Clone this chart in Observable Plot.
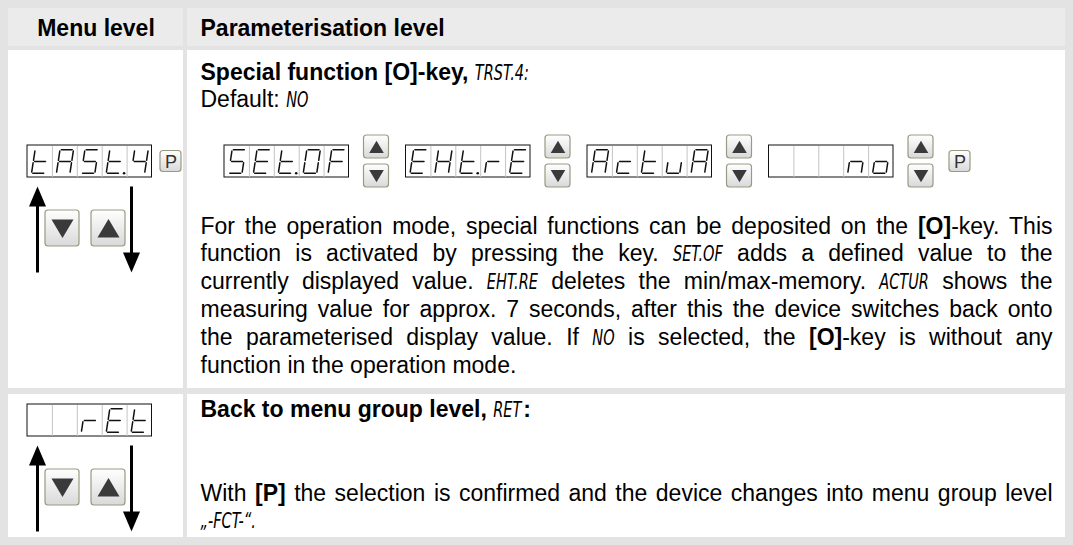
<!DOCTYPE html>
<html><head><meta charset="utf-8">
<script src="https://cdn.jsdelivr.net/npm/d3@7"></script>
<script src="https://cdn.jsdelivr.net/npm/@observablehq/plot@0.6"></script>
<style>html,body{margin:0;padding:0;background:#e3e3e3;}</style>
</head><body>
<div id="chart"></div>
<script>
// ---------------- content ----------------
const headers = ["Menu level", "Parameterisation level"];
const row1Title = "**Special function [O]-key,** {TRST.4:}";
const row1Default = "Default: {NO}";
const row1Body = [
  "For the operation mode, special functions can be deposited on the **[O]**-key. This",
  "function is activated by pressing the key. {SET.OF} adds a defined value to the",
  "currently displayed value. {EHT.RE} deletes the min/max-memory. {ACTUR} shows the",
  "measuring value for approx. 7 seconds, after this the device switches back onto",
  "the parameterised display value. If {NO} is selected, the **[O]**-key is without any",
  "function in the operation mode."
];
const row2Title = "**Back to menu group level,** {RET}**:**";
const row2Body = [
  "With **[P]** the selection is confirmed and the device changes into menu group level",
  "{„-FCT-“.}"
];
const menuDisplays = ["tASt.4", "  rEt"];
const paramChoices = ["SEt.OF", "EHt.rE", "ActuA", "   no"];

// seven-segment glyph table
const SEG = {t:"defg", A:"abcefg", S:"acdfg", "4":"bcfg", E:"adefg", O:"abcdef", F:"aefg",
  H:"bcefg", r:"eg", c:"deg", u:"cde", n:"ceg", o:"cdeg", " ":""};
const SEGPTS = {a:[[0,0],[1,0]], b:[[1,0],[1,.5]], c:[[1,.5],[1,1]], d:[[0,1],[1,1]],
  e:[[0,.5],[0,1]], f:[[0,0],[0,.5]], g:[[0,.5],[1,.5]]};

// ---------------- layout ----------------
const W = 1073, H = 545;
const colEdges = [[8, 183], [187, 1065]];
const rowEdges = [[8, 46], [50, 388], [394, 537]];
const textX0 = 200, textX1 = 1052, lineH = 27.8;
const SANS = "'Liberation Sans', Arial, sans-serif";
const SEGX = 0.66;
const FONTS = {
  reg: {css: "23px " + SANS, size: 23, weight: "normal", style: "normal", fam: SANS},
  bold: {css: "bold 23px " + SANS, size: 23, weight: "bold", style: "normal", fam: SANS},
  seg: {css: "italic 22px 'DejaVu Sans', sans-serif", size: 22, weight: "normal", style: "italic", fam: "'DejaVu Sans', sans-serif"}
};
const ctx = document.createElement("canvas").getContext("2d");
function measure(t, s) { ctx.font = FONTS[s].css; return ctx.measureText(t).width * (s === "seg" ? SEGX : 1); }

function parseRuns(str) {
  const runs = []; const re = /\*\*(.+?)\*\*|\{(.+?)\}|([^*{]+)/g; let m;
  while ((m = re.exec(str))) {
    if (m[1] != null) runs.push({t: m[1], s: "bold"});
    else if (m[2] != null) runs.push({t: m[2], s: "seg"});
    else runs.push({t: m[3], s: "reg"});
  }
  return runs;
}
function toWords(runs) {
  const words = []; let cur = null;
  for (const r of runs) {
    r.t.split(" ").forEach((p, i) => {
      if (i > 0) { if (cur) words.push(cur); cur = null; }
      if (p.length) { if (!cur) cur = {pieces: []}; cur.pieces.push({t: p, s: r.s}); }
    });
  }
  if (cur) words.push(cur);
  return words;
}
const textItems = [];
function pieceAdvance(p, i, n) { return measure(p.t, p.s) + (p.s === "seg" && i < n - 1 ? 2 : 0); }
function layoutLine(line, x0, x1, baseline, justify) {
  const words = toWords(parseRuns(line));
  words.forEach(w => { w.w = d3.sum(w.pieces, (p, i) => pieceAdvance(p, i, w.pieces.length)); });
  const total = d3.sum(words, w => w.w);
  const gap = justify && words.length > 1 ? (x1 - x0 - total) / (words.length - 1) : measure(" ", "reg");
  let x = x0;
  for (const w of words) {
    let px = x;
    w.pieces.forEach((p, i) => {
      textItems.push({x: px, y: baseline, t: p.t, s: p.s});
      px += pieceAdvance(p, i, w.pieces.length);
    });
    x += w.w + gap;
  }
}
// header
textItems.push({x: (colEdges[0][0] + colEdges[0][1]) / 2, y: 35, t: headers[0], s: "bold", mid: true});
textItems.push({x: textX0, y: 35, t: headers[1], s: "bold"});
// row 1
layoutLine(row1Title, textX0, textX1, 79, false);
layoutLine(row1Default, textX0, textX1, 79 + lineH, false);
row1Body.forEach((l, i) => layoutLine(l, textX0, textX1, 233 + i * lineH, i < row1Body.length - 1));
// row 2
layoutLine(row2Title, textX0, textX1, 416.5, false);
row2Body.forEach((l, i) => layoutLine(l, textX0, textX1, 500 + i * lineH, i < row2Body.length - 1));

// displays
const dispW = 124.5, dispH = 32, cellW = dispW / 5;
const dispBoxes = [], dividers = [], segs = [], dots = [];
function addDisplay(str, x, y) {
  dispBoxes.push({x1: x, x2: x + dispW, y1: y, y2: y + dispH});
  for (let i = 1; i < 5; i++) dividers.push({x: x + i * cellW, y1: y + 0.5, y2: y + dispH - 0.5});
  const cells = [];
  for (const ch of str) { if (ch === "." && cells.length) cells[cells.length - 1].dot = true; else cells.push({ch, dot: false}); }
  const gw = 13.5, gh = 23.5, sl = 3.6;
  cells.forEach((c, i) => {
    const gx = x + i * cellW + 4.0, gy = y + 4.3;
    const P = ([u, v]) => [gx + u * gw + (1 - v) * sl, gy + v * gh];
    for (const s of (SEG[c.ch] || "")) {
      const [p1, p2] = SEGPTS[s].map(P);
      const dx = p2[0] - p1[0], dy = p2[1] - p1[1], L = Math.hypot(dx, dy), k = 1.3 / L;
      segs.push({x1: p1[0] + dx * k, y1: p1[1] + dy * k, x2: p2[0] - dx * k, y2: p2[1] - dy * k});
    }
    if (c.dot) dots.push({x: x + (i + 1) * cellW - 3.0, y: gy + gh});
  });
}
// custom glyph shapes (symbols)
const symTriS = {draw(c) { c.moveTo(0, -6.3); c.lineTo(-7.3, 6); c.lineTo(7.3, 6); c.closePath(); }};
const symTriB = {draw(c) { c.moveTo(0, -9.5); c.lineTo(-11, 9); c.lineTo(11, 9); c.closePath(); }};
const symHead = {draw(c) { c.moveTo(0, 0); c.lineTo(-8.5, 20); c.lineTo(8.5, 20); c.closePath(); }};
// buttons
const buttons = [], trisSmall = [], trisBig = [], pLabels = [];
function addBtn(x, y, w, h, kind, big) {
  buttons.push({x1: x, x2: x + w, y1: y, y2: y + h});
  const cx = x + w / 2, cy = y + h / 2;
  const arr = big ? trisBig : trisSmall;
  if (kind === "up") arr.push({x: cx, y: cy, rot: 0});
  else if (kind === "down") arr.push({x: cx, y: cy, rot: 180});
  else pLabels.push({x: cx, y: cy + 1, t: "P"});
}
// big navigation arrows
const shafts = [], heads = [];
function addNav(T) {
  const top = T + 41, bot = T + 127;
  shafts.push({x1: 37, y1: top + 15, x2: 37, y2: bot});
  heads.push({x: 37, y: top, rot: 0});
  shafts.push({x1: 131, y1: top, x2: 131, y2: bot - 15});
  heads.push({x: 131, y: bot, rot: 180});
  addBtn(45, T + 65, 34, 36, "down", true);
  addBtn(91, T + 65, 34, 36, "up", true);
}
// row 1 sequence
const r1Top = 145;
addDisplay(menuDisplays[0], 27, r1Top);
addBtn(160, r1Top + 5.5, 21, 21, "P");
addNav(r1Top);
let cx = 224;
const udW = 25, udH = 23;
paramChoices.forEach((s) => {
  addDisplay(s, cx, r1Top);
  cx += dispW + 15;
  addBtn(cx, r1Top + 16 - 3 - udH, udW, udH, "up");
  addBtn(cx, r1Top + 16 + 3, udW, udH, "down");
  cx += udW + 17;
});
addBtn(cx - 1, r1Top + 5.5, 21, 21, "P");
// row 2
const r2Top = 404;
addDisplay(menuDisplays[1], 27, r2Top);
addNav(r2Top);

// table cells
const headCells = colEdges.map(([x1, x2]) => ({x1, x2, y1: rowEdges[0][0], y2: rowEdges[0][1]}));
const bodyCells = rowEdges.slice(1).flatMap(([y1, y2]) => colEdges.map(([x1, x2]) => ({x1, x2, y1, y2})));

function textMark(style) {
  const f = FONTS[style];
  const common = {x: "x", y: "y", text: "t", lineAnchor: "bottom", fontSize: f.size, fontWeight: f.weight,
    fontStyle: f.style, fontFamily: f.fam, fill: "#000", className: "txt-" + style};
  return [
    Plot.text(textItems.filter(d => d.s === style && !d.mid), {...common, textAnchor: "start"}),
    Plot.text(textItems.filter(d => d.s === style && d.mid), {...common, textAnchor: "middle", className: "txtm-" + style})
  ];
}

const chart = Plot.plot({
  width: W, height: H, margin: 0,
  x: {type: "identity", axis: null}, y: {type: "identity", axis: null},
  style: {background: "#e3e3e3", fontFamily: SANS},
  marks: [
    Plot.rect(headCells, {x1: "x1", x2: "x2", y1: "y1", y2: "y2", fill: "#ebebeb"}),
    Plot.rect(bodyCells, {x1: "x1", x2: "x2", y1: "y1", y2: "y2", fill: "#ffffff"}),
    Plot.rect(dispBoxes, {x1: "x1", x2: "x2", y1: "y1", y2: "y2", fill: "#fff", stroke: "#111", strokeWidth: 1}),
    Plot.link(dividers, {x1: "x", x2: "x", y1: "y1", y2: "y2", stroke: "#c4c4c4", strokeWidth: 1}),
    Plot.link(segs, {x1: "x1", y1: "y1", x2: "x2", y2: "y2", stroke: "#111", strokeWidth: 1.5, strokeLinecap: "round"}),
    Plot.dot(dots, {x: "x", y: "y", r: 1.3, fill: "#111", stroke: null}),
    Plot.rect(buttons, {x1: "x1", x2: "x2", y1: "y1", y2: "y2", rx: 3, fill: "url(#btnGrad)", stroke: "#9a9a82", strokeWidth: 1.2}),
    Plot.dot(trisSmall, {x: "x", y: "y", symbol: symTriS, rotate: "rot", fill: "#3a3a3a", stroke: null}),
    Plot.dot(trisBig, {x: "x", y: "y", symbol: symTriB, rotate: "rot", fill: "#3a3a3a", stroke: null}),
    Plot.text(pLabels, {x: "x", y: "y", text: "t", fontSize: 18, fill: "#333", fontFamily: SANS}),
    Plot.link(shafts, {x1: "x1", y1: "y1", x2: "x2", y2: "y2", stroke: "#000", strokeWidth: 3}),
    Plot.dot(heads, {x: "x", y: "y", symbol: symHead, rotate: "rot", fill: "#000", stroke: null}),
    ...textMark("reg"), ...textMark("bold"), ...textMark("seg")
  ]
});
// condense the digital-style inline text horizontally (narrow display-type look)
const segData = textItems.filter(d => d.s === "seg" && !d.mid);
chart.querySelectorAll("g.txt-seg text").forEach((el, i) => {
  const d = segData[i];
  if (!d) return;
  el.removeAttribute("x"); el.removeAttribute("y");
  el.setAttribute("transform", `translate(${d.x},${d.y}) scale(${SEGX},1)`);
});
const defs = d3.create("svg:defs");
const g = defs.append("linearGradient").attr("id", "btnGrad").attr("x1", 0).attr("y1", 0).attr("x2", 0).attr("y2", 1);
g.append("stop").attr("offset", "0%").attr("stop-color", "#ffffff");
g.append("stop").attr("offset", "100%").attr("stop-color", "#d9d9d9");
chart.insertBefore(defs.node(), chart.firstChild);
document.getElementById("chart").appendChild(chart);
</script>
</body></html>
